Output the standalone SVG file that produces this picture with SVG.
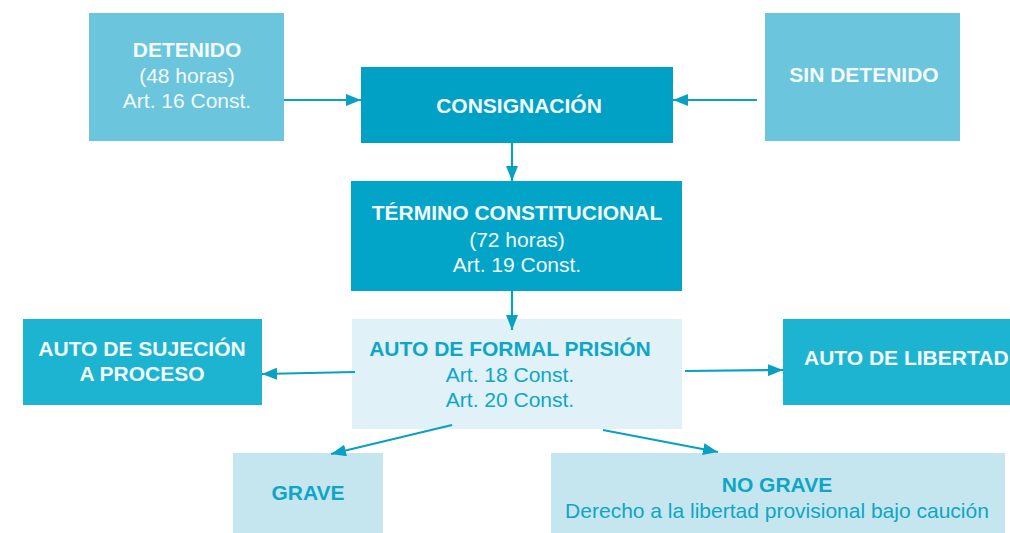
<svg xmlns="http://www.w3.org/2000/svg" width="1010" height="533" viewBox="0 0 1010 533">
<style>
text{font-family:"Liberation Sans",Arial,sans-serif;font-size:21px;text-anchor:middle}
.b{font-weight:bold}
.w{fill:#f2fafc}
.d{fill:#0ea6c7}
.c{stroke:#0aa0c2;stroke-width:2.2;fill:none;marker-end:url(#ah)}
</style>
<defs>
<marker id="ah" viewBox="0 0 10 10" refX="10" refY="5" markerWidth="15" markerHeight="12" markerUnits="userSpaceOnUse" orient="auto" preserveAspectRatio="none">
<path d="M0,0L10,5L0,10z" fill="#0aa0c2"/>
</marker>
</defs>
<rect width="1010" height="533" fill="#ffffff"/>
<g id="detenido"><rect x="89" y="13" width="195" height="128" fill="#6bc5dd"/>
<text x="187" y="57" class="b w">DETENIDO</text><text x="187" y="83" class="w">(48 horas)</text><text x="187" y="108" class="w">Art. 16 Const.</text></g>
<g id="consignacion"><rect x="361" y="67" width="312" height="76" fill="#00a1c5"/>
<text x="519" y="113" class="b w">CONSIGNACIÓN</text></g>
<g id="sin-detenido"><rect x="765" y="13" width="195" height="128" fill="#6bc5dd"/>
<text x="864" y="82" class="b w">SIN DETENIDO</text></g>
<g id="termino"><rect x="351" y="181" width="331" height="110" fill="#02a5c7"/>
<text x="517" y="220" class="b w">TÉRMINO CONSTITUCIONAL</text><text x="517" y="247" class="w">(72 horas)</text><text x="517" y="272" class="w">Art. 19 Const.</text></g>
<g id="formal"><rect x="352" y="319" width="330" height="110" fill="#e0f1f7"/>
<text x="510" y="356" class="b d">AUTO DE FORMAL PRISIÓN</text><text x="510" y="382" class="d">Art. 18 Const.</text><text x="510" y="407" class="d">Art. 20 Const.</text></g>
<g id="sujecion"><rect x="23" y="319" width="239" height="86" fill="#1db4d2"/>
<text x="142" y="356" class="b w">AUTO DE SUJECIÓN</text><text x="142" y="381" class="b w">A PROCESO</text></g>
<g id="libertad"><rect x="783" y="319" width="240" height="86" fill="#1db4d2"/>
<text x="804" y="365" class="b w" style="text-anchor:start">AUTO DE LIBERTAD</text></g>
<g id="grave"><rect x="233" y="453" width="150" height="80" fill="#c5e5ef"/>
<text x="308" y="500" class="b d">GRAVE</text></g>
<g id="no-grave"><rect x="551" y="453" width="454" height="80" fill="#c5e5ef"/>
<text x="777" y="492" class="b d">NO GRAVE</text><text x="777" y="518" class="d">Derecho a la libertad provisional bajo caución</text></g>
<g id="connectors">
<line x1="284" y1="100" x2="361" y2="100" class="c"/>
<line x1="757" y1="100" x2="673" y2="100" class="c"/>
<line x1="512" y1="143" x2="512" y2="181" class="c"/>
<line x1="512" y1="291" x2="512" y2="330" class="c"/>
<line x1="355" y1="372" x2="262" y2="374" class="c"/>
<line x1="685" y1="371" x2="783" y2="370" class="c"/>
<line x1="452" y1="425" x2="331" y2="454" class="c"/>
<line x1="603" y1="430" x2="718" y2="452" class="c"/>
</g>
</svg>
